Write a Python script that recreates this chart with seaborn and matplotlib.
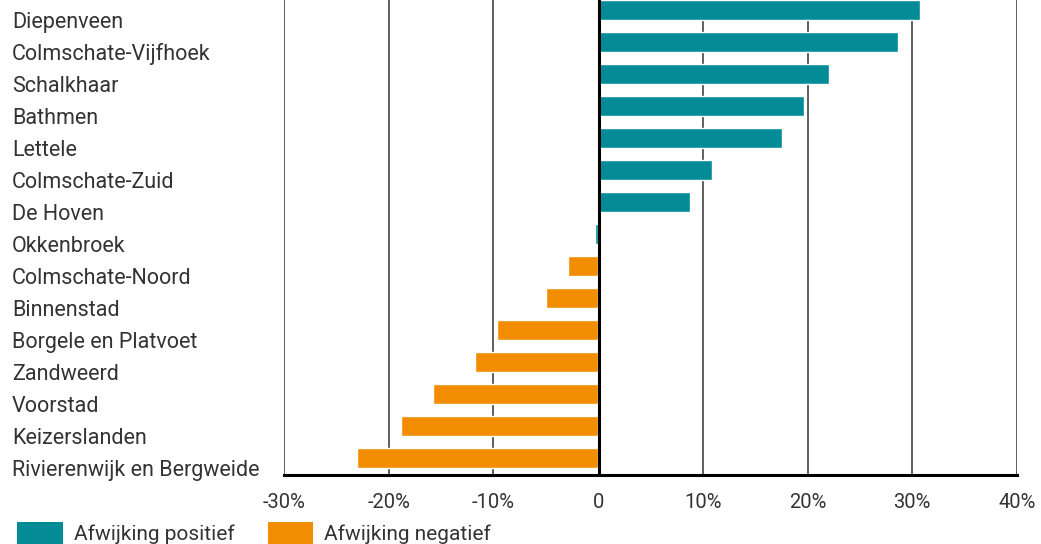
import matplotlib
matplotlib.use("Agg")
import matplotlib.pyplot as plt
import matplotlib.transforms as mtransforms
import seaborn as sns
import pandas as pd
from matplotlib.ticker import FixedLocator
from matplotlib.patches import Patch

wijken = ["Diepenveen", "Colmschate-Vijfhoek", "Schalkhaar", "Bathmen", "Lettele",
          "Colmschate-Zuid", "De Hoven", "Okkenbroek", "Colmschate-Noord", "Binnenstad",
          "Borgele en Platvoet", "Zandweerd", "Voorstad", "Keizerslanden",
          "Rivierenwijk en Bergweide"]
afwijking = [30.7, 28.6, 22.0, 19.7, 17.6, 10.9, 8.8, -0.3, -2.9, -5.0,
             -9.7, -11.8, -15.8, -18.8, -23.0]
groep = ["Afwijking positief"] * 8 + ["Afwijking negatief"] * 7
xticks = [-30, -20, -10, 0, 10, 20, 30, 40]
xticklabels = ["-30%", "-20%", "-10%", "0", "10%", "20%", "30%", "40%"]

kleuren = {"Afwijking positief": "#038C96", "Afwijking negatief": "#F28C00"}

sns.set_theme(style="white")
plt.rcParams["font.family"] = ["Roboto", "DejaVu Sans"]

df = pd.DataFrame({"wijk": wijken, "afwijking": afwijking, "groep": groep})

fig = plt.figure(figsize=(10.41, 5.44), dpi=100)
ax = fig.add_axes([284 / 1041, 1 - 475 / 544, (1017 - 284) / 1041, 475 / 544])

sns.barplot(data=df, x="afwijking", y="wijk", hue="groep", palette=kleuren,
            dodge=False, orient="h", width=0.6, ax=ax, saturation=1,
            legend=False, zorder=3)

ax.set_xlim(-30, 40)
ax.set_ylim(14.53, -0.31)
ax.xaxis.set_major_locator(FixedLocator(xticks))
ax.set_xticklabels(xticklabels)
ax.set_xlabel("")
ax.set_ylabel("")

for x in xticks:
    if x == 0:
        ax.axvline(x + 0.08, color="black", lw=2.2, zorder=4)
    else:
        ax.axvline(x, color="#333333", lw=1.1, zorder=1)

for s in ["top", "right", "left"]:
    ax.spines[s].set_visible(False)
ax.spines["bottom"].set_color("black")
ax.spines["bottom"].set_linewidth(2.2)
ax.spines["bottom"].set_zorder(5)

fs = 15.5
ax.tick_params(axis="x", length=0, pad=13, labelsize=14.5, labelcolor="#333333")
ax.tick_params(axis="y", length=0, pad=(284 - 12) * 0.72, labelsize=fs,
               labelcolor="#333333")
shift = mtransforms.ScaledTranslation(0, -10 / 100, fig.dpi_scale_trans)
for lab in ax.get_yticklabels():
    lab.set_horizontalalignment("left")
    lab.set_transform(lab.get_transform() + shift)

handles = [Patch(facecolor=kleuren[g], edgecolor="none") for g in kleuren]
fig.legend(handles, list(kleuren.keys()), loc="upper left",
           bbox_to_anchor=(9 / 1041, 1 - 514 / 544), ncol=2, frameon=False,
           fontsize=15, handlelength=2.2, handleheight=1.2, handletextpad=0.5,
           columnspacing=1.6, labelcolor="#333333", borderaxespad=0)

fig.savefig("out.png", dpi=100)
